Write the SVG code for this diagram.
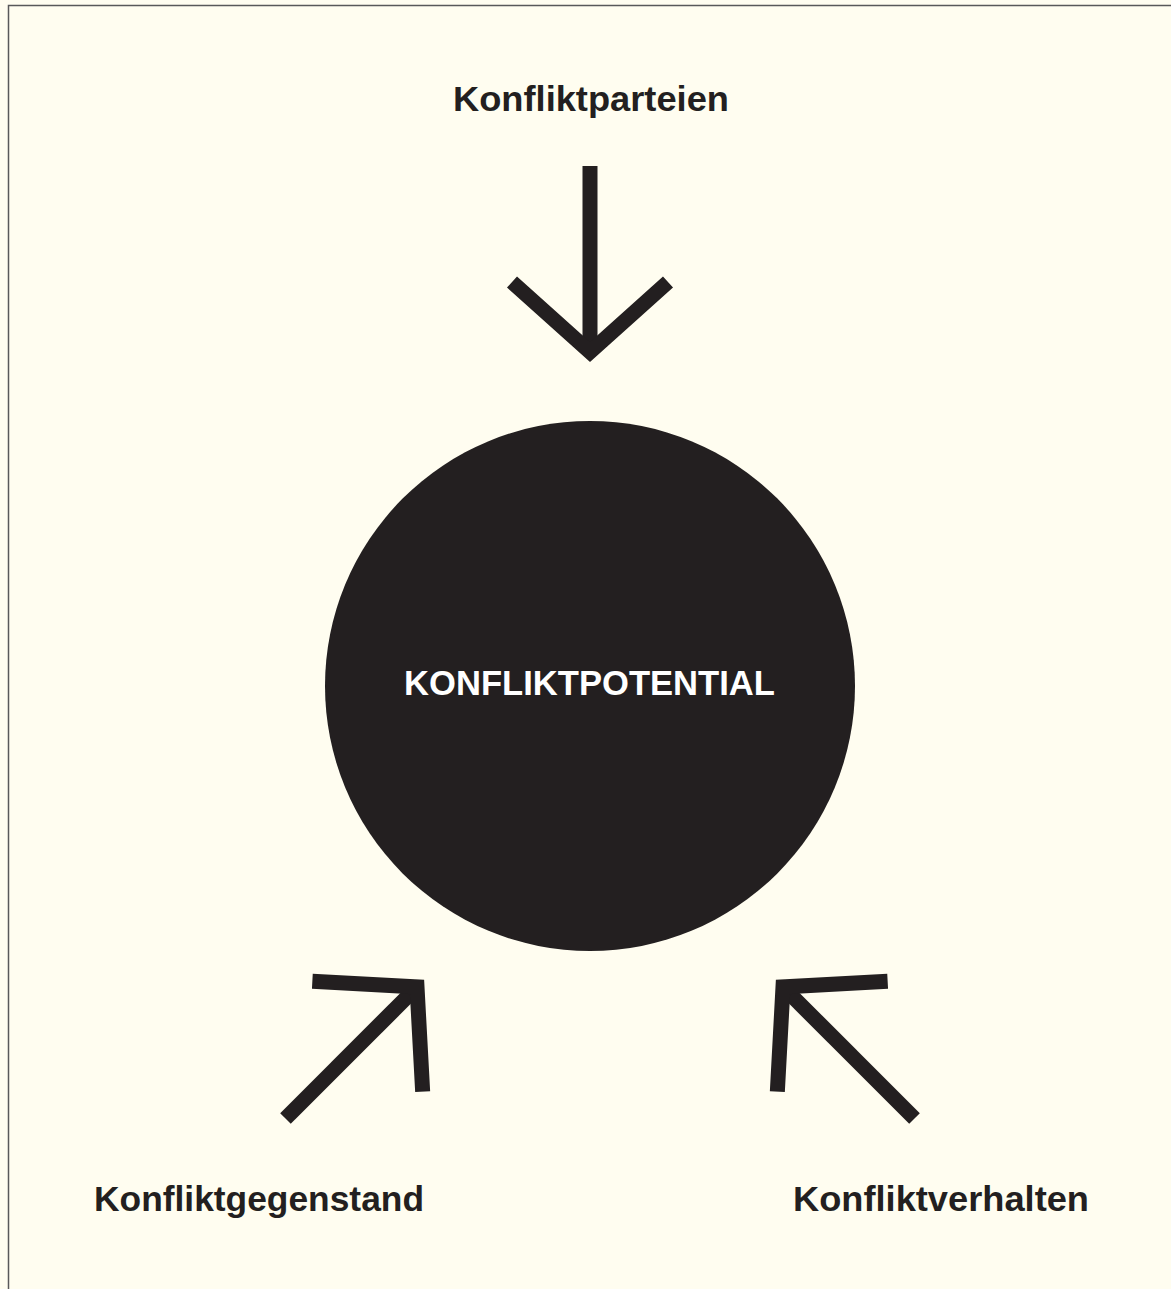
<svg xmlns="http://www.w3.org/2000/svg" xmlns:xlink="http://www.w3.org/1999/xlink" width="1171" height="1289" viewBox="0 0 1171 1289">
  <style>
    .lbl { font-family: "Liberation Sans", "DejaVu Sans", Arial, sans-serif; font-weight: bold; font-size: 35px; fill: #231f20; }
    .inner { font-family: "Liberation Sans", "DejaVu Sans", Arial, sans-serif; font-weight: bold; font-size: 35px; fill: #ffffff; }
    .arrow { fill: none; stroke: #231f20; stroke-width: 15; stroke-linejoin: miter; stroke-miterlimit: 10; stroke-linecap: butt; }
  </style>
  <defs>
    <g id="arrowShape">
      <line class="arrow" x1="0" y1="-186" x2="0" y2="0"/>
      <polyline class="arrow" points="-78,-70 0,0 78,-70"/>
    </g>
  </defs>
  <rect x="0" y="0" width="1171" height="1289" fill="#fffdf0"/>
  <path d="M8.5 1289 V5.5 H1171" fill="none" stroke="#58585a" stroke-width="1.5"/>

  <g id="connectors">
    <use xlink:href="#arrowShape" href="#arrowShape" transform="translate(590,352)"/>
    <use xlink:href="#arrowShape" href="#arrowShape" transform="translate(417,987) rotate(-135)"/>
    <use xlink:href="#arrowShape" href="#arrowShape" transform="translate(783,987) rotate(135)"/>
  </g>

  <g id="node-konfliktpotential">
    <circle cx="590" cy="686" r="265" fill="#231f20"/>
    <text class="inner" x="404" y="695" textLength="371" lengthAdjust="spacingAndGlyphs">KONFLIKTPOTENTIAL</text>
  </g>
  <g id="node-konfliktparteien">
    <text class="lbl" x="453" y="111" textLength="276" lengthAdjust="spacingAndGlyphs">Konfliktparteien</text>
  </g>
  <g id="node-konfliktgegenstand">
    <text class="lbl" x="94" y="1211" textLength="330" lengthAdjust="spacingAndGlyphs">Konfliktgegenstand</text>
  </g>
  <g id="node-konfliktverhalten">
    <text class="lbl" x="793" y="1211" textLength="296" lengthAdjust="spacingAndGlyphs">Konfliktverhalten</text>
  </g>
</svg>
